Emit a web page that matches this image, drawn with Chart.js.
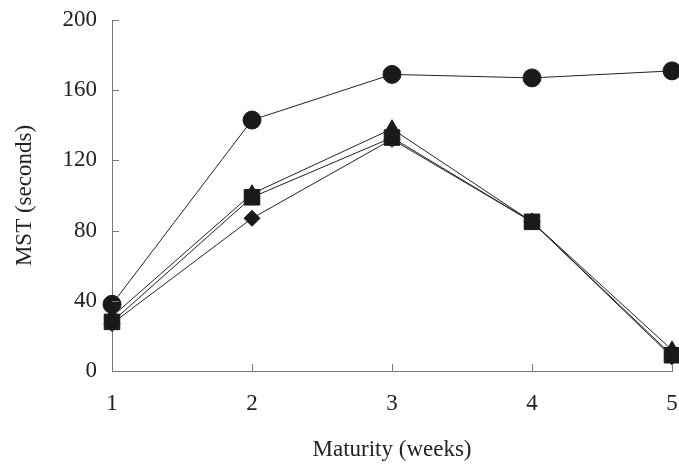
<!DOCTYPE html>
<html>
<head>
<meta charset="utf-8">
<script src="https://cdn.jsdelivr.net/npm/chart.js@4/dist/chart.umd.min.js"></script>
<style>
  body { margin: 0; background: #fff; }
  #wrap { width: 679px; height: 467px; }
</style>
</head>
<body>
<div id="wrap"><canvas id="chart"></canvas></div>
<script>
var weeks = [1, 2, 3, 4, 5];
var circleVals = [38, 143, 169, 167, 171];
var triangleVals = [31, 101, 138, 85, 12];
var squareVals = [28, 99, 133, 85, 9];
var diamondVals = [27, 87, 132, 85, 8];
var yTicks = [0, 40, 80, 120, 160, 200];

function series(vals, style, radius) {
  return {
    data: vals.map(function (v, i) { return { x: weeks[i], y: v }; }),
    borderColor: '#222',
    borderWidth: 1,
    backgroundColor: '#1a1a1a',
    pointBackgroundColor: '#1a1a1a',
    pointBorderColor: '#1a1a1a',
    pointBorderWidth: 1,
    pointStyle: style,
    pointRadius: radius,
    pointHoverRadius: radius,
    tension: 0,
    clip: false
  };
}

// ticks pointing into the plot, like the original
var innerTicks = {
  id: 'innerTicks',
  afterDraw: function (chart) {
    var ctx = chart.ctx;
    var xs = chart.scales.x, ys = chart.scales.y;
    ctx.save();
    ctx.strokeStyle = '#777';
    ctx.lineWidth = 1;
    ctx.beginPath();
    yTicks.forEach(function (t) {
      var py = Math.round(ys.getPixelForValue(t)) + 0.5;
      ctx.moveTo(xs.left, py);
      ctx.lineTo(xs.left + 7, py);
    });
    weeks.forEach(function (w) {
      var px = Math.round(xs.getPixelForValue(w)) + 0.5;
      ctx.moveTo(px, ys.bottom);
      ctx.lineTo(px, ys.bottom - 7);
    });
    ctx.stroke();
    ctx.restore();
  }
};

var font = { family: 'Liberation Serif', size: 23 };

new Chart(document.getElementById('chart'), {
  type: 'line',
  data: {
    datasets: [
      series(diamondVals, 'rectRot', 8),
      series(squareVals, 'rect', 11),
      series(triangleVals, 'triangle', 9),
      series(circleVals, 'circle', 9)
    ]
  },
  options: {
    responsive: true,
    maintainAspectRatio: false,
    animation: false,
    layout: { autoPadding: false, padding: { top: 20, right: 7, left: 0, bottom: 0 } },
    plugins: { legend: { display: false }, tooltip: { enabled: false } },
    scales: {
      x: {
        type: 'linear',
        min: 1, max: 5,
        afterFit: function (s) { s.height = 96; s.paddingLeft = 0; s.paddingRight = 0; },
        grid: { display: false, drawTicks: false },
        border: { display: true, color: '#777', width: 1 },
        ticks: {
          stepSize: 1, padding: 19, color: '#222', font: font
        },
        title: {
          display: true, text: 'Maturity (weeks)', color: '#222', font: font,
          padding: { top: 20, bottom: 3 }
        }
      },
      y: {
        min: 0, max: 200,
        afterFit: function (s) { s.width = 112; s.paddingTop = 0; s.paddingBottom = 0; },
        grid: { display: false, drawTicks: false },
        border: { display: true, color: '#777', width: 1 },
        ticks: {
          stepSize: 40, padding: 15, color: '#222', font: font
        },
        title: {
          display: true, text: 'MST (seconds)', color: '#222', font: font,
          padding: { top: 11, bottom: 0 }
        }
      }
    }
  },
  plugins: [innerTicks]
});
</script>
</body>
</html>
